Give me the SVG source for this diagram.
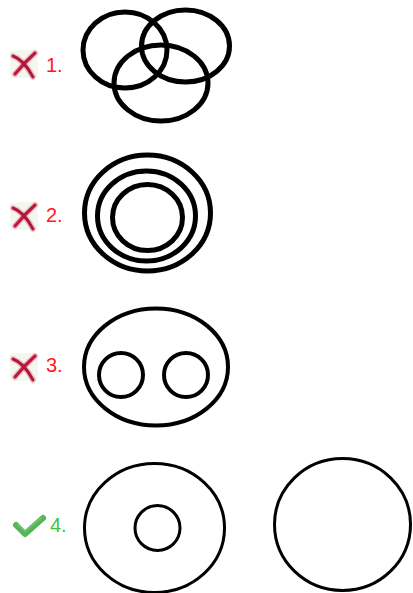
<svg xmlns="http://www.w3.org/2000/svg" width="413" height="593" viewBox="0 0 413 593">
<style>
.lbl{font-family:"Liberation Sans",Arial,sans-serif;font-size:20px}
.bad{fill:#ff1a1a}
.good{fill:#3cc43c}
.c5{fill:none;stroke:#000;stroke-width:5}
.c4{fill:none;stroke:#000;stroke-width:4}
.c3{fill:none;stroke:#000;stroke-width:3}
</style>
<defs>
<g id="xmark">
<rect x="0" y="0" width="28" height="28" rx="3" fill="#f3f7ef"/>
<path d="M25,3 Q15,12 5,24" fill="none" stroke="#e8a0b0" stroke-width="6" stroke-linecap="round" opacity="0.6"/>
<path d="M3,6 Q14,10 23,27" fill="none" stroke="#e8a0b0" stroke-width="6" stroke-linecap="round" opacity="0.6"/>
<path d="M25,3 Q15,12 5,24" fill="none" stroke="#c0183a" stroke-width="3.2" stroke-linecap="round"/>
<path d="M3,6 Q14,10 23,27" fill="none" stroke="#b01838" stroke-width="3" stroke-linecap="round"/>
</g>
</defs>
<rect width="413" height="593" fill="#fff"/>

<g id="item1">
<use href="#xmark" x="10" y="50"/>
<text class="lbl bad" x="46" y="72">1.</text>
<ellipse class="c5" cx="125" cy="50" rx="42" ry="38"/>
<ellipse class="c5" cx="185.5" cy="46" rx="44" ry="36"/>
<ellipse class="c5" cx="161" cy="83" rx="47" ry="38"/>
</g>

<g id="item2">
<use href="#xmark" x="10" y="202"/>
<text class="lbl bad" x="46" y="222">2.</text>
<ellipse class="c5" cx="147.5" cy="213" rx="63" ry="58"/>
<ellipse class="c5" cx="146.5" cy="216" rx="49" ry="45"/>
<ellipse class="c5" cx="147.5" cy="217.5" rx="35" ry="33"/>
</g>

<g id="item3">
<use href="#xmark" x="10" y="353"/>
<text class="lbl bad" x="46" y="372">3.</text>
<ellipse class="c4" cx="156" cy="367" rx="72" ry="58.5"/>
<circle class="c4" cx="121" cy="375" r="22"/>
<circle class="c4" cx="186" cy="375" r="22"/>
</g>

<g id="item4">
<path d="M16,525 L25,534 L43,518" fill="none" stroke="#56b556" stroke-width="6" stroke-linecap="round" stroke-linejoin="round"/>
<path d="M18,525 L25,531 L41,518" fill="none" stroke="#7cd07c" stroke-width="1.5" stroke-linecap="round" opacity="0.7"/>
<text class="lbl good" x="50" y="532">4.</text>
<ellipse class="c3" cx="154.5" cy="528" rx="70" ry="64.5"/>
<circle class="c3" cx="157.5" cy="528" r="22.5"/>
<ellipse class="c3" cx="342.5" cy="524.5" rx="68" ry="66"/>
</g>
</svg>
